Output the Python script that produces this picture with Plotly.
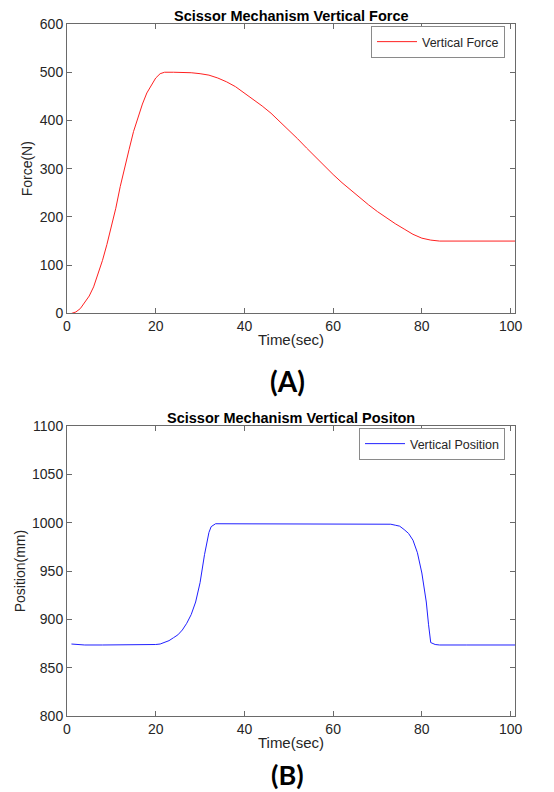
import plotly.graph_objects as go

# ---- data ----
force_t = [1, 2, 3, 4, 5, 6, 7, 8, 9, 10, 11, 12, 13, 14, 15, 16, 17, 18, 19, 20,
           21, 22, 24, 26, 28, 30, 32, 34, 36, 38, 40, 42, 44, 46, 48, 50, 52, 54,
           56, 58, 60, 62, 64, 66, 68, 70, 72, 74, 76, 78, 80, 82, 84, 90, 95, 101]
force_n = [0, 3, 10, 22, 36, 55, 82, 110, 143, 178, 218, 263, 305, 340, 377, 408,
           434, 457, 474, 488, 497, 500, 500, 500, 499, 497, 494, 488, 480, 470, 457,
           444, 430, 415, 398, 380, 362, 343, 324, 305, 288, 271, 255, 240, 225, 211,
           198, 186, 175, 164, 156, 152, 150, 150, 150, 150]

pos_t = [1, 2, 4, 8, 12, 16, 19, 20, 21, 22, 23, 24, 25, 26, 27, 28, 29, 30, 31,
         32, 32.5, 33.5, 35, 45, 55, 65, 72, 73, 74, 75, 76, 77, 78, 79, 80, 81,
         81.5, 82, 83, 84, 90, 95, 101]
pos_mm = [874.5, 874, 873.5, 873.5, 873.5, 873.6, 873.8, 874, 874.5, 876, 878, 881,
          884, 889, 896, 905, 918, 938, 967, 990, 996, 999, 999, 999, 999, 999, 999,
          998.5, 997.5, 996.5, 993, 989, 982, 969, 948, 918, 895, 876, 874, 873.5,
          873.5, 873.5, 873.5]

x_ticks = [0, 20, 40, 60, 80, 100]
force_ticks = [0, 100, 200, 300, 400, 500, 600]
pos_ticks = [800, 850, 900, 950, 1000, 1050, 1100]

OFF = 8  # page body margin
W, H = 554 - OFF, 792 - OFF
FONT = "Liberation Sans, Arial, sans-serif"
AX = "#6a6a6a"
TXT = "#262626"

# plot-area geometry (page pixels, converted to figure pixels)
L, R, T, B = 66.5 - OFF, 515.0 - OFF, 24.0 - OFF, 715.7 - OFF
TOP_Y0 = 313.3 - OFF
BOT_Y1 = 426.0 - OFF
PH = B - T

def ydom(py_top, py_bot):
    return [(B - py_bot) / PH, (B - py_top) / PH]

fig = go.Figure()
fig.add_trace(go.Scatter(x=force_t, y=force_n, mode="lines", name="Vertical Force",
                         line=dict(color="#ff2020", width=1), xaxis="x", yaxis="y",
                         legend="legend"))
fig.add_trace(go.Scatter(x=pos_t, y=pos_mm, mode="lines", name="Vertical Position",
                         line=dict(color="#2020ff", width=1), xaxis="x2", yaxis="y2",
                         legend="legend2"))

top_dom = ydom(T, TOP_Y0)
bot_dom = ydom(BOT_Y1, B)

def xaxis(anchor):
    return dict(domain=[0, 1], anchor=anchor, range=[0, 101], tickvals=x_ticks,
                ticks="inside", ticklen=5, tickcolor=AX, showline=True,
                linecolor=AX, linewidth=1, mirror="ticks", showgrid=False,
                zeroline=False, automargin=False,
                tickfont=dict(family=FONT, size=14, color=TXT),
                title=dict(text="Time(sec)", font=dict(family=FONT, size=15, color=TXT),
                           standoff=1))

def yaxis(anchor, dom, rng, ticks, title):
    return dict(domain=dom, anchor=anchor, range=rng, tickvals=ticks,
                ticks="inside", ticklen=5, tickcolor=AX, showline=True,
                linecolor=AX, linewidth=1, mirror="ticks", showgrid=False,
                zeroline=False, automargin=False,
                tickfont=dict(family=FONT, size=14, color=TXT),
                title=dict(text=title, font=dict(family=FONT, size=14, color=TXT),
                           standoff=3))

legend_style = dict(xanchor="right", yanchor="top", bgcolor="white",
                    bordercolor="#8a8a8a", borderwidth=1,
                    font=dict(family=FONT, size=12.5, color=TXT),
                    itemwidth=40, tracegroupgap=0, xref="container", yref="container")

fig.update_layout(
    width=W, height=H,
    margin=dict(l=L, r=W - R, t=T, b=H - B, pad=0, autoexpand=False),
    paper_bgcolor="white", plot_bgcolor="white",
    xaxis=xaxis("y"),
    yaxis=yaxis("x", top_dom, [0, 600], force_ticks, "Force(N)"),
    xaxis2=xaxis("y2"),
    yaxis2=yaxis("x2", bot_dom, [800, 1100], pos_ticks, "Position(mm)"),
    legend=dict(x=(505 - OFF) / W, y=1 - (26 - OFF) / H, **legend_style),
    legend2=dict(x=(505 - OFF) / W, y=1 - (428 - OFF) / H, **legend_style),
    showlegend=True,
)

ann = [
    dict(text="<b>Scissor Mechanism Vertical Force</b>", x=290.75, y=16.5,
         font=dict(family=FONT, size=14.5, color="black")),
    dict(text="<b>Scissor Mechanism Vertical Positon</b>", x=290.75, y=418,
         font=dict(family=FONT, size=14.5, color="black")),
    dict(text="<b>(A)</b>", x=287, y=381,
         font=dict(family="Lato, Open Sans, sans-serif", size=28, color="black")),
    dict(text="<b>(B)</b>", x=287, y=774,
         font=dict(family="Lato, Open Sans, sans-serif", size=27, color="black")),
]
for a in ann:
    px, py = a.pop("x") - OFF, a.pop("y") - OFF
    fig.add_annotation(xref="paper", yref="paper", showarrow=False, borderpad=0,
                       x=(px - L) / (R - L), y=(B - py) / PH,
                       xanchor="center", yanchor="middle", **a)

fig.write_html("out.html")
